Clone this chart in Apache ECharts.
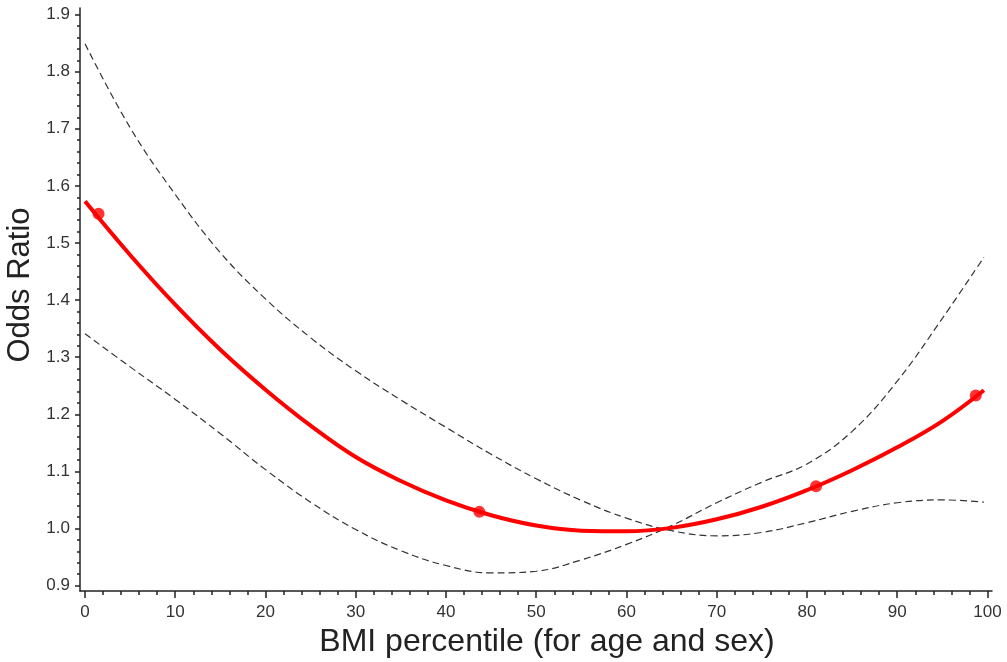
<!DOCTYPE html>
<html>
<head>
<meta charset="utf-8">
<title>Odds Ratio by BMI percentile</title>
<script src="https://cdn.jsdelivr.net/npm/echarts@6/dist/echarts.min.js"></script>
<style>
  html, body { margin: 0; padding: 0; background: #fff; }
  #chart { width: 1007px; height: 662px; }
</style>
</head>
<body>
<div id="chart"></div>
<script>
// BMI percentile positions where the curves were read
var bmiPct = [0, 5, 10, 15, 20, 25, 30, 35, 40, 45, 50, 55, 60, 65, 70, 75, 80, 85, 90, 95, 99.6];

// estimated odds ratio (red solid)
var oddsRatio = [1.573, 1.479, 1.392, 1.313, 1.243, 1.180, 1.125, 1.083, 1.049, 1.023, 1.005, 0.996, 0.995, 1.001, 1.016, 1.038, 1.067, 1.102, 1.142, 1.188, 1.242];

// confidence band, curve that starts high and flattens at the right
var bandA = [1.849, 1.702, 1.585, 1.483, 1.402, 1.334, 1.276, 1.225, 1.177, 1.130, 1.087, 1.049, 1.018, 0.996, 0.987, 0.993, 1.010, 1.030, 1.045, 1.050, 1.046];

// confidence band, curve that starts low and rises at the right
var bandB = [1.341, 1.283, 1.226, 1.166, 1.103, 1.046, 0.998, 0.961, 0.935, 0.922, 0.925, 0.945, 0.972, 1.005, 1.045, 1.081, 1.113, 1.170, 1.258, 1.368, 1.475];

// dots on the red curve
var dotPct = [1.5, 43.7, 81, 98.7];
var dotOR = [1.551, 1.029, 1.074, 1.233];

// tick labels
var xTicks = [0, 10, 20, 30, 40, 50, 60, 70, 80, 90, 100];
var yTicks = [0.9, 1.0, 1.1, 1.2, 1.3, 1.4, 1.5, 1.6, 1.7, 1.8, 1.9];

function pairs(xs, ys) {
    var out = [];
    for (var i = 0; i < xs.length; i++) out.push([xs[i], ys[i]]);
    return out;
}

// minor ticks: split every major step in 5
function minorOf(ticks) {
    var out = [];
    for (var i = 0; i < ticks.length - 1; i++) {
        var step = (ticks[i + 1] - ticks[i]) / 5;
        for (var k = 1; k < 5; k++) out.push(+(ticks[i] + k * step).toFixed(4));
    }
    return out;
}

var font = 'Liberation Sans, Arial, sans-serif';
var axisColor = '#222';
var X_MIN = -0.554, X_MAX = 100.5;
var Y_MIN = 0.8904, Y_MAX = 1.9116;

var chart = echarts.init(document.getElementById('chart'), null, { renderer: 'canvas' });

var option = {
    animation: false,
    backgroundColor: '#fff',
    grid: { left: 80, right: 15, top: 8, bottom: 71, containLabel: false, outerBoundsMode: 'none' },
    xAxis: [{
        type: 'value',
        position: 'bottom',
        min: X_MIN, max: X_MAX,
        name: 'BMI percentile (for age and sex)',
        nameLocation: 'middle',
        nameGap: 30,
        nameTextStyle: { fontFamily: font, fontSize: 32, color: '#222', padding: [0, 0, 0, 22] },
        axisLine: { show: true, onZero: false, lineStyle: { color: axisColor, width: 1.5 } },
        axisTick: { show: true, length: 7, customValues: xTicks, lineStyle: { color: axisColor, width: 1.5 } },
        axisLabel: { customValues: xTicks, margin: 13, fontFamily: font, fontSize: 17, color: '#333' },
        splitLine: { show: false }
    }, {
        type: 'value',
        position: 'bottom',
        min: X_MIN, max: X_MAX,
        axisLine: { show: false, onZero: false },
        axisTick: { show: true, length: 4, customValues: minorOf(xTicks), lineStyle: { color: axisColor, width: 1.5 } },
        axisLabel: { show: false },
        splitLine: { show: false }
    }],
    yAxis: [{
        type: 'value',
        position: 'left',
        min: Y_MIN, max: Y_MAX,
        name: 'Odds Ratio',
        nameLocation: 'middle',
        nameGap: 40,
        nameTextStyle: { fontFamily: font, fontSize: 31, color: '#222', padding: [0, 0, 0, 29] },
        axisLine: { show: true, onZero: false, lineStyle: { color: axisColor, width: 1.5 } },
        axisTick: { show: true, length: 5, customValues: yTicks, lineStyle: { color: axisColor, width: 1.5 } },
        axisLabel: {
            customValues: yTicks, margin: 10, fontFamily: font, fontSize: 17, color: '#333',
            formatter: function (v) { return v.toFixed(1); }
        },
        splitLine: { show: false }
    }, {
        type: 'value',
        position: 'left',
        min: Y_MIN, max: Y_MAX,
        axisLine: { show: false, onZero: false },
        axisTick: { show: true, length: 3, customValues: minorOf(yTicks), lineStyle: { color: axisColor, width: 1.5 } },
        axisLabel: { show: false },
        splitLine: { show: false }
    }],
    series: [{
        name: 'upper',
        type: 'line',
        data: pairs(bmiPct, bandA),
        smooth: 0.4,
        symbol: 'none',
        lineStyle: { color: '#333', width: 1.2, type: [7, 4] },
        z: 2
    }, {
        name: 'lower',
        type: 'line',
        data: pairs(bmiPct, bandB),
        smooth: 0.4,
        symbol: 'none',
        lineStyle: { color: '#333', width: 1.2, type: [7, 4] },
        z: 2
    }, {
        name: 'OR',
        type: 'line',
        data: pairs(bmiPct, oddsRatio),
        smooth: 0.4,
        symbol: 'none',
        lineStyle: { color: '#ff0000', width: 4 },
        z: 3
    }, {
        name: 'dots',
        type: 'scatter',
        data: pairs(dotPct, dotOR),
        symbol: 'circle',
        symbolSize: 12,
        itemStyle: { color: '#ff0000' },
        z: 4
    }]
};

chart.setOption(option);
</script>
</body>
</html>
